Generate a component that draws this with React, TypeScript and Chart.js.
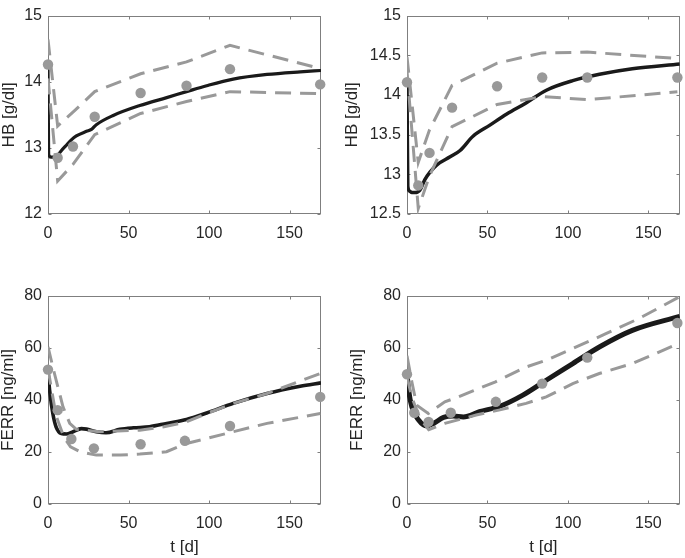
import React, { useEffect, useRef } from 'react';
import { Chart, registerables } from 'chart.js';

Chart.register(...registerables);

// ---------- shared axis values ----------
const xTicks = [0, 50, 100, 150];
const xMax = 169.5;
const hbTicksA = [12, 13, 14, 15];
const hbTicksB = [12.5, 13, 13.5, 14, 14.5, 15];
const ferrTicks = [0, 20, 40, 60, 80];

// ---------- panel A: HB (left) ----------
const hbA_obsT = [0, 6, 15.5, 29, 57.5, 86, 113, 169];
const hbA_obsV = [14.26, 12.85, 13.02, 13.47, 13.83, 13.94, 14.19, 13.96];
const hbA_modT = [0, 0.4, 2, 5, 8, 11.4, 14.5, 17.6, 23.9, 27, 30, 40.5, 57, 73.7, 86, 98.5, 115, 136, 156.6, 169.5];
const hbA_modV = [14.19, 12.9, 12.86, 12.86, 12.95, 13.04, 13.12, 13.18, 13.25, 13.28, 13.35, 13.49, 13.64, 13.76, 13.85, 13.94, 14.04, 14.11, 14.15, 14.17];
const hbA_upT = [0, 6, 15.5, 29, 57.5, 86, 113, 169];
const hbA_upV = [14.64, 13.33, 13.54, 13.85, 14.12, 14.3, 14.55, 14.2];
const hbA_loT = [0, 6, 15.5, 29, 57.5, 86, 113, 169];
const hbA_loV = [14.05, 12.5, 12.75, 13.2, 13.52, 13.7, 13.85, 13.82];

// ---------- panel B: HB (right) ----------
const hbB_obsT = [0, 7, 14, 28, 56, 84, 112, 168];
const hbB_obsV = [14.16, 12.86, 13.27, 13.84, 14.11, 14.22, 14.22, 14.22];
const hbB_modT = [0, 0.5, 1.5, 3, 5, 8, 11, 14.4, 18.6, 26.8, 33, 41, 51.5, 62, 74, 86.6, 103, 119.6, 140, 169.5];
const hbB_modV = [14.1, 12.85, 12.79, 12.77, 12.77, 12.8, 12.93, 13.03, 13.12, 13.22, 13.3, 13.48, 13.62, 13.76, 13.9, 14.06, 14.18, 14.26, 14.33, 14.39];
const hbB_upT = [0, 7, 14, 28, 56, 84, 112, 168];
const hbB_upV = [14.48, 13.15, 13.56, 14.12, 14.4, 14.53, 14.54, 14.46];
const hbB_loT = [0, 7, 14, 28, 56, 84, 112, 168];
const hbB_loV = [14.3, 12.57, 12.98, 13.6, 13.88, 13.98, 13.94, 14.04];

// ---------- panel C: FERR (left) ----------
const ferrA_obsT = [0, 6, 14.5, 28.5, 57.5, 85, 113, 169];
const ferrA_obsV = [51.7, 36.1, 25, 21.4, 23, 24.3, 30, 41.2];
const ferrA_modT = [0, 1, 3, 5, 8.3, 11.4, 15.6, 20.7, 23.9, 30, 36, 44.6, 53, 63, 73.7, 86, 98.5, 115, 136, 156.6, 169.5];
const ferrA_modV = [50.8, 43.8, 34.8, 29.7, 27.1, 26.9, 27.8, 29, 28.8, 27.8, 27.4, 28.7, 29.3, 29.7, 31, 32.5, 35, 38.7, 42.5, 45.3, 46.6];
const ferrA_upT = [0, 4, 9.3, 13.5, 17.6, 32, 57, 72, 86, 98.5, 115, 136, 169];
const ferrA_upV = [60.4, 50.2, 37.4, 31, 28.7, 27.8, 28.4, 29.7, 31.6, 34.8, 38.7, 42.5, 50.2];
const ferrA_loT = [0, 5, 10, 14, 20, 30, 45, 57, 73.6, 86, 98.5, 115, 136, 169];
const ferrA_loV = [52, 34, 25.5, 22, 20.1, 18.8, 18.8, 19.2, 20.1, 23.3, 25.2, 27.8, 31, 34.8];

// ---------- panel D: FERR (right) ----------
const ferrB_obsT = [0, 4.5, 13.4, 27.2, 55.2, 84, 112, 168];
const ferrB_obsV = [49.9, 35.1, 31.6, 35.1, 39.3, 46.3, 56.3, 69.6];
const ferrB_modT = [0, 1, 3, 7.2, 12.4, 16.5, 22.7, 28.8, 35, 45, 57.7, 72, 86.5, 103, 119.5, 140, 169.5];
const ferrB_modV = [50.2, 43.8, 37.4, 32.3, 30, 31, 33.3, 33.8, 33.5, 35.5, 37.6, 41.9, 47.6, 54, 60.4, 66.8, 72.2];
const ferrB_upT = [0, 3, 6, 13.2, 23.5, 32, 41, 55, 74, 86.5, 103, 123.6, 144, 169];
const ferrB_upV = [57, 47, 38, 34.8, 39.3, 41.2, 43.5, 47, 52.7, 55.3, 59.8, 65.5, 71.3, 79.6];
const ferrB_loT = [0, 1, 3, 8, 13.5, 23.5, 43, 57.7, 74, 86.5, 103, 119.5, 140, 169];
const ferrB_loV = [49, 46.3, 41, 33, 28.6, 31, 34.2, 36.2, 38.7, 41.2, 46.3, 50.2, 54, 61.8];

// ---------- styles ----------
const GREY = '#999999';
const BLACK = '#1a1a1a';
const TEXT = '#262626';
const AXIS = '#7f7f7f';
const FONT = "'Liberation Sans', Arial, Helvetica, sans-serif";
const TICK_LEN = 3;

const zip = (t: number[], v: number[]) => t.map((x, i) => ({ x, y: v[i] }));

const boxPlugin = {
  id: 'matlabBox',
  beforeDatasetsDraw(chart: any) {
    const { ctx, chartArea, scales } = chart;
    const { left, top, right, bottom } = chartArea;
    const L = Math.round(left) + 0.5;
    const T = Math.round(top) + 0.5;
    const R = Math.round(right) - 0.5;
    const B = Math.round(bottom) - 0.5;
    ctx.save();
    ctx.strokeStyle = AXIS;
    ctx.lineWidth = 1;
    ctx.strokeRect(L, T, R - L, B - T);
    ctx.beginPath();
    scales.x.ticks.forEach((t: any) => {
      const p = Math.round(scales.x.getPixelForValue(t.value)) + 0.5;
      ctx.moveTo(p, B); ctx.lineTo(p, B - TICK_LEN);
      ctx.moveTo(p, T); ctx.lineTo(p, T + TICK_LEN);
    });
    scales.y.ticks.forEach((t: any) => {
      const p = Math.round(scales.y.getPixelForValue(t.value)) + 0.5;
      ctx.moveTo(L, p); ctx.lineTo(L + TICK_LEN, p);
      ctx.moveTo(R, p); ctx.lineTo(R - TICK_LEN, p);
    });
    ctx.stroke();
    ctx.restore();
  },
};

type PanelProps = {
  obsT: number[]; obsV: number[];
  modT: number[]; modV: number[];
  upT: number[]; upV: number[];
  loT: number[]; loV: number[];
  yMin: number; yMax: number; yTicks: number[];
  yTitle: string; xTitle?: string;
  modelWidth: number;
  left: number; top: number; width: number; height: number;
  areaLeft: number; areaTop: number; areaRight: number; areaBottom: number;
  yTitlePad: number;
};

function Panel(p: PanelProps) {
  const ref = useRef<HTMLCanvasElement | null>(null);
  useEffect(() => {
    if (!ref.current) return;
    const yAxisW = p.areaLeft;
    const xAxisH = p.height - p.areaBottom;
    const chart = new Chart(ref.current, {
      type: 'line',
      data: {
        datasets: [
          {
            label: 'observed',
            data: zip(p.obsT, p.obsV),
            showLine: false,
            pointRadius: 5.2,
            pointBackgroundColor: GREY,
            pointBorderColor: GREY,
            pointBorderWidth: 0,
            clip: false,
          } as any,
          {
            label: 'upper',
            data: zip(p.upT, p.upV),
            borderColor: GREY,
            borderWidth: 3,
            borderDash: [16, 9],
            pointRadius: 0,
            tension: 0,
            fill: false,
          },
          {
            label: 'lower',
            data: zip(p.loT, p.loV),
            borderColor: GREY,
            borderWidth: 3,
            borderDash: [16, 9],
            pointRadius: 0,
            tension: 0,
            fill: false,
          },
          {
            label: 'model',
            data: zip(p.modT, p.modV),
            borderColor: BLACK,
            borderWidth: p.modelWidth,
            pointRadius: 0,
            cubicInterpolationMode: 'monotone',
            fill: false,
          },
        ],
      },
      options: {
        responsive: false,
        animation: false,
        devicePixelRatio: 1,
        events: [],
        layout: { padding: { top: p.areaTop, right: p.width - p.areaRight, left: 0, bottom: 0 } },
        plugins: { legend: { display: false }, tooltip: { enabled: false } },
        scales: {
          x: {
            type: 'linear',
            min: 0,
            max: xMax,
            afterBuildTicks: (s: any) => { s.ticks = xTicks.map((v) => ({ value: v })); },
            afterFit: (s: any) => { s.height = xAxisH; },
            grid: { display: false, drawTicks: false },
            border: { display: false },
            ticks: {
              padding: 10, color: TEXT, font: { family: FONT, size: 16 }, maxRotation: 0, autoSkip: false,
              callback: (v: any) => String(v),
            },
            title: p.xTitle
              ? { display: true, text: p.xTitle, color: TEXT, font: { family: FONT, size: 17 }, padding: { top: 0, bottom: 0 } }
              : { display: false },
          },
          y: {
            type: 'linear',
            min: p.yMin,
            max: p.yMax,
            afterBuildTicks: (s: any) => { s.ticks = p.yTicks.map((v) => ({ value: v })); },
            afterFit: (s: any) => { s.width = yAxisW; },
            grid: { display: false, drawTicks: false },
            border: { display: false },
            ticks: {
              padding: 6, color: TEXT, font: { family: FONT, size: 16 }, autoSkip: false,
              callback: (v: any) => String(v),
            },
            title: { display: true, text: p.yTitle, color: TEXT, font: { family: FONT, size: 17 }, padding: { top: p.yTitlePad, bottom: 0 } },
          },
        },
      } as any,
      plugins: [boxPlugin],
    });
    return () => chart.destroy();
  }, []);
  return (
    <canvas
      ref={ref}
      width={p.width}
      height={p.height}
      style={{ position: 'absolute', left: p.left, top: p.top, width: p.width, height: p.height }}
    />
  );
}

export default function App() {
  return (
    <div style={{ position: 'absolute', left: 0, top: 0, width: 685, height: 558, background: '#ffffff', overflow: 'hidden' }}>
      <Panel
        obsT={hbA_obsT} obsV={hbA_obsV} modT={hbA_modT} modV={hbA_modV}
        upT={hbA_upT} upV={hbA_upV} loT={hbA_loT} loV={hbA_loV}
        yMin={12} yMax={15} yTicks={hbTicksA} yTitle="HB [g/dl]" modelWidth={3.2}
        left={0} top={0} width={342} height={280}
        areaLeft={48} areaTop={5} areaRight={321} areaBottom={214} yTitlePad={-1}
      />
      <Panel
        obsT={hbB_obsT} obsV={hbB_obsV} modT={hbB_modT} modV={hbB_modV}
        upT={hbB_upT} upV={hbB_upV} loT={hbB_loT} loV={hbB_loV}
        yMin={12.5} yMax={15} yTicks={hbTicksB} yTitle="HB [g/dl]" modelWidth={3.5}
        left={342} top={0} width={343} height={280}
        areaLeft={65} areaTop={5} areaRight={339} areaBottom={214} yTitlePad={0}
      />
      <Panel
        obsT={ferrA_obsT} obsV={ferrA_obsV} modT={ferrA_modT} modV={ferrA_modV}
        upT={ferrA_upT} upV={ferrA_upV} loT={ferrA_loT} loV={ferrA_loV}
        yMin={0} yMax={80} yTicks={ferrTicks} yTitle="FERR [ng/ml]" xTitle="t [d]" modelWidth={3.6}
        left={0} top={280} width={342} height={278}
        areaLeft={48} areaTop={16} areaRight={321} areaBottom={224} yTitlePad={-2}
      />
      <Panel
        obsT={ferrB_obsT} obsV={ferrB_obsV} modT={ferrB_modT} modV={ferrB_modV}
        upT={ferrB_upT} upV={ferrB_upV} loT={ferrB_loT} loV={ferrB_loV}
        yMin={0} yMax={80} yTicks={ferrTicks} yTitle="FERR [ng/ml]" xTitle="t [d]" modelWidth={5}
        left={342} top={280} width={343} height={278}
        areaLeft={65} areaTop={16} areaRight={339} areaBottom={224} yTitlePad={5}
      />
    </div>
  );
}
